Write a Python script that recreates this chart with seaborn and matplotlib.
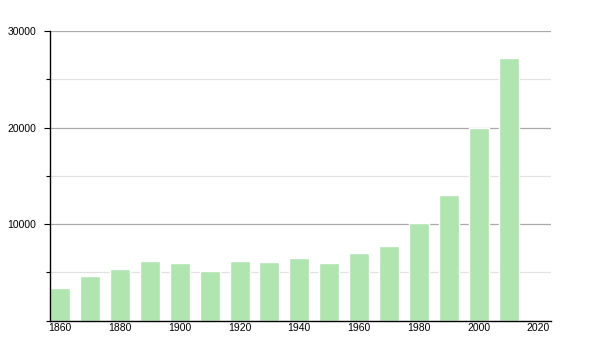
import matplotlib
matplotlib.use("Agg")
import matplotlib.pyplot as plt
import seaborn as sns
import pandas as pd
from matplotlib.ticker import MultipleLocator

years = [1860, 1870, 1880, 1890, 1900, 1910, 1920, 1930, 1940, 1950,
         1960, 1970, 1980, 1990, 2000, 2010]
population = [3370, 4610, 5340, 6200, 6000, 5100, 6140, 6040, 6450, 5930,
              6970, 7730, 10120, 13020, 20000, 27200]
x_ticks = [1860, 1880, 1900, 1920, 1940, 1960, 1980, 2000, 2020]
y_ticks = [10000, 20000, 30000]

sns.set_style("white")
plt.rcParams['font.family'] = ['Liberation Sans', 'DejaVu Sans']
plt.rcParams['text.color'] = 'black'
plt.rcParams['xtick.color'] = 'black'
plt.rcParams['ytick.color'] = 'black'

df = pd.DataFrame({"year": years, "pop": population})

fig = plt.figure(figsize=(6, 3.5), dpi=100)
ax = fig.add_axes([50/600, 29.5/350, 501/600, 289.5/350])

ax.bar(df["year"], df["pop"], width=6.7, color="#b0e5b0", zorder=2)

ax.set_xlim(1856.6, 2024.2)
ax.set_ylim(0, 30000)
ax.set_xticks(x_ticks)
ax.set_xticklabels([str(t) for t in x_ticks])
ax.set_yticks(y_ticks)
ax.set_yticklabels([str(t) for t in y_ticks])
ax.yaxis.set_minor_locator(MultipleLocator(5000))

ax.grid(axis="y", which="major", color="#aaaaaa", linewidth=0.9, zorder=1)
ax.grid(axis="y", which="minor", color="#e2e2e2", linewidth=0.9, zorder=1)
ax.set_axisbelow(True)

for s in ["top", "right"]:
    ax.spines[s].set_visible(False)
for s in ["left", "bottom"]:
    ax.spines[s].set_color("black")
    ax.spines[s].set_linewidth(1.0)

ax.tick_params(axis="y", which="major", length=4, width=0.8, color="black",
               labelsize=7.5, pad=6, left=True, labelcolor="black")
ax.tick_params(axis="y", which="minor", length=3, width=0.8, color="black", left=True)
ax.tick_params(axis="x", which="major", length=0, labelsize=7.5, pad=2,
               labelcolor="black")
ax.set_xlabel("")
ax.set_ylabel("")

fig.savefig("out.png", dpi=100)
